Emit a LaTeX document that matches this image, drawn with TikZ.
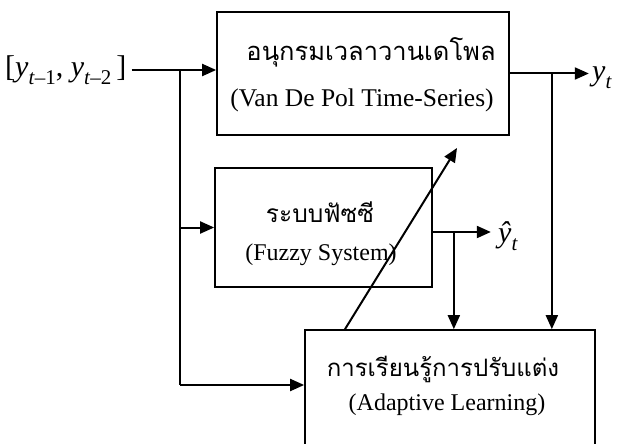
\documentclass[tikz,border=0pt]{standalone}
\usepackage{fontspec}
\setmainfont{Liberation Serif}
\newfontfamily\thaifont[Script=Thai]{Loma}
\usetikzlibrary{arrows.meta,calc}
\newcommand\mysub[1]{\raisebox{-0.28em}{\fontsize{21}{23}\selectfont #1}}
\begin{document}
\begin{tikzpicture}[x=1pt,y=-1pt,
  blk/.style={draw,line width=1.7pt,inner sep=0pt},
  th/.style={inner sep=0pt},
  en/.style={font=\fontsize{24}{28}\selectfont,inner sep=0pt},
  sym/.style={font=\fontsize{30}{34}\selectfont,inner sep=0pt},
  conn/.style={line width=2pt},
  arr/.style={conn,-{Triangle[length=14pt,width=12pt]}}]
\useasboundingbox (0,0) rectangle (621,444);
\clip (0,0) rectangle (621,444);
% boxes
\node[blk,minimum width=292pt,minimum height=123pt] (vdp) at (363,73.5) {};
\node[blk,minimum width=217pt,minimum height=119pt] (fz) at (323.5,227.5) {};
\node[blk,minimum width=290pt,minimum height=130pt] (al) at (450,395) {};
% texts
\node[th,font=\thaifont\fontsize{25.5}{30}\selectfont] (vdpth) at (371,52) {อนุกรมเวลาวานเดโพล};
\node[en,font=\fontsize{25.5}{29}\selectfont] (vdpen) at (362,100) {(Van De Pol Time-Series)};
\node[th,font=\thaifont\fontsize{24.5}{28}\selectfont] (fzth) at (320,212) {ระบบฟัซซี};
\node[en] (fzen) at (321,255) {(Fuzzy System)};
\node[th,font=\thaifont\fontsize{24}{28}\selectfont] (alth) at (443,369) {การเรียนรู้การปรับแต่ง};
\node[en] (alen) at (447,405) {(Adaptive Learning)};
% labels
\node[sym,anchor=west] (inp) at (5,70) {[\textit{y}\mysub{\textit{t}–1}, \textit{y}\mysub{\textit{t}–2}\,]};
\node[sym,anchor=west] (yt) at (592,78) {\textit{y}\mysub{\textit{t}}};
\node[sym,anchor=west] (yh) at (498,236) {\textit{ŷ}\mysub{\textit{t}}};
% connectors
\coordinate (b1) at (180,70);
\coordinate (b2) at (180,385);
\draw[arr] ([xshift=5pt]inp.east) -- (inp.east -| vdp.west);
\draw[conn] (b1) -- (b2);
\draw[arr] (b2) -- (b2 -| al.west);
\draw[arr] (fz.west -| b1) -- (fz.west);
\draw[arr] (vdp.east) -- ++(79,0) coordinate (ytip);
\path (vdp.east) ++(42,0) coordinate (b3);
\draw[arr] (b3) -- (b3 |- al.north);
\draw[arr] ([yshift=-4.5pt]fz.east) -- ++(58,0) coordinate (yhtip);
\path ([yshift=-4.5pt]fz.east) ++(21,0) coordinate (b4);
\draw[arr] (b4) -- (b4 |- al.north);
\coordinate (dtip) at (457,148);
\draw[arr] ([xshift=-105pt]al.north) -- (dtip);
\end{tikzpicture}
\end{document}
